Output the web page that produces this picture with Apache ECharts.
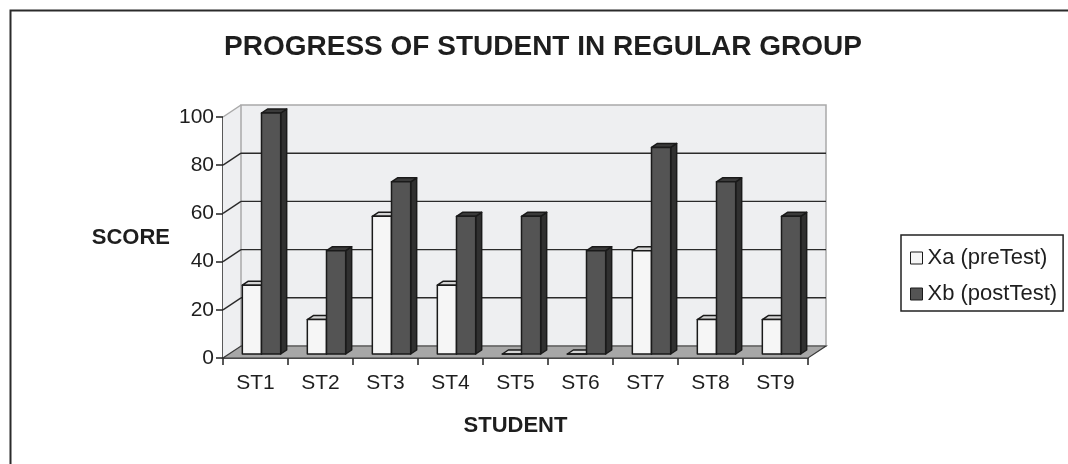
<!DOCTYPE html>
<html>
<head>
<meta charset="utf-8">
<script src="https://cdn.jsdelivr.net/npm/echarts@6/dist/echarts.min.js"></script>
<style>
  html, body { margin: 0; padding: 0; background: #fff; }
  #chart { width: 1068px; height: 464px; }
</style>
</head>
<body>
<div id="chart"></div>
<script>
// Student scores before and after the course (percent of items correct)
const categories = ['ST1', 'ST2', 'ST3', 'ST4', 'ST5', 'ST6', 'ST7', 'ST8', 'ST9'];
const preTest  = [28.57, 14.29, 57.14, 28.57, 0, 0, 42.86, 14.29, 14.29];
const postTest = [100, 42.86, 71.43, 57.14, 57.14, 42.86, 85.71, 71.43, 57.14];
const scoreTicks = [0, 20, 40, 60, 80, 100];
const seriesNames = ['Xa (preTest)', 'Xb (postTest)'];

// Pseudo-3D look: the back wall sits DEPTH pixels behind the front axis plane,
// bars occupy the middle third of that depth.
const DEPTH = [18, -12];
const BAR_NEAR = 1 / 3;
const BAR_FAR = 2 / 3;
const BAR_RATIO = 0.295;   // bar width as a share of a category band
const OUTLINE = '#1a1a1a';

const FACES = {
  pre:  { front: '#f6f6f6', top: '#d4d4d4', side: '#bdbdbd' },
  post: { front: '#545454', top: '#3a3a3a', side: '#303030' }
};

function barRenderer(leftOfCenter, faces) {
  return function (params, api) {
    const i = api.value(0);
    const v = api.value(1);
    const topPt = api.coord([i, v]);
    const basePt = api.coord([i, 0]);
    const band = api.size([1, 0])[0];
    const w = band * BAR_RATIO;
    const x0 = leftOfCenter ? topPt[0] - w : topPt[0];
    const x1 = x0 + w;
    const nx = DEPTH[0] * BAR_NEAR, ny = DEPTH[1] * BAR_NEAR;
    const fx = DEPTH[0] * BAR_FAR,  fy = DEPTH[1] * BAR_FAR;
    const yt = topPt[1], yb = basePt[1];
    const line = { stroke: OUTLINE, lineWidth: 1.5, lineJoin: 'round' };
    return {
      type: 'group',
      children: [
        { type: 'polygon',
          shape: { points: [[x1 + nx, yb + ny], [x1 + fx, yb + fy], [x1 + fx, yt + fy], [x1 + nx, yt + ny]] },
          style: Object.assign({ fill: faces.side }, line) },
        { type: 'polygon',
          shape: { points: [[x0 + nx, yt + ny], [x1 + nx, yt + ny], [x1 + fx, yt + fy], [x0 + fx, yt + fy]] },
          style: Object.assign({ fill: faces.top }, line) },
        { type: 'polygon',
          shape: { points: [[x0 + nx, yb + ny], [x1 + nx, yb + ny], [x1 + nx, yt + ny], [x0 + nx, yt + ny]] },
          style: Object.assign({ fill: faces.front }, line) }
      ]
    };
  };
}

// Walls, floor and gridlines of the 3D box, built from the axis scales
function frameRenderer(params, api) {
  const cs = params.coordSys;
  const gx = cs.x, gw = cs.width;
  const [dx, dy] = DEPTH;
  const y0 = api.coord([0, scoreTicks[0]])[1];
  const yMax = api.coord([0, scoreTicks[scoreTicks.length - 1]])[1];
  const wallFill = '#eeeff1';
  const children = [
    { type: 'polygon',
      shape: { points: [[gx, yMax], [gx + dx, yMax + dy], [gx + dx, y0 + dy], [gx, y0]] },
      style: { fill: wallFill, stroke: null } },
    { type: 'rect',
      shape: { x: gx + dx, y: yMax + dy, width: gw, height: y0 - yMax },
      style: { fill: wallFill, stroke: '#a9a9a9', lineWidth: 1.5 } },
    { type: 'line',
      shape: { x1: gx, y1: yMax, x2: gx + dx, y2: yMax + dy },
      style: { stroke: '#a9a9a9', lineWidth: 1.5 } }
  ];
  scoreTicks.slice(1, -1).forEach(function (t) {
    const y = api.coord([0, t])[1];
    children.push(
      { type: 'line', shape: { x1: gx, y1: y, x2: gx + dx, y2: y + dy },
        style: { stroke: '#2a2a2a', lineWidth: 1.4 } },
      { type: 'line', shape: { x1: gx + dx, y1: y + dy, x2: gx + dx + gw, y2: y + dy },
        style: { stroke: '#2a2a2a', lineWidth: 1.4 } }
    );
  });
  children.push({
    type: 'polygon',
    shape: { points: [[gx, y0], [gx + gw, y0], [gx + gw + dx, y0 + dy], [gx + dx, y0 + dy]] },
    style: { fill: '#a7a7a7', stroke: '#3a3a3a', lineWidth: 1.2 }
  });
  return { type: 'group', children: children };
}

const chart = echarts.init(document.getElementById('chart'), null, { renderer: 'canvas' });
const FONT = 'Liberation Sans';

chart.setOption({
  animation: false,
  backgroundColor: '#ffffff',
  title: {
    text: 'PROGRESS OF STUDENT IN REGULAR GROUP',
    left: 538,
    top: 28,
    textAlign: 'center',
    textStyle: { fontFamily: FONT, fontSize: 28, fontWeight: 'bold', color: '#1e1e1e' }
  },
  graphic: [{
    type: 'rect',
    left: 8, top: 8,
    shape: { width: 1100, height: 500 },
    style: { fill: null, stroke: '#2b2b2b', lineWidth: 2 },
    silent: true
  }],
  legend: {
    orient: 'vertical',
    left: 901,
    top: 235,
    padding: [12, 6, 6, 9],
    itemGap: 14,
    itemWidth: 12,
    itemHeight: 12,
    borderColor: '#222',
    borderWidth: 1.5,
    icon: 'rect',
    textStyle: { fontFamily: FONT, fontSize: 22, color: '#1e1e1e' },
    data: [
      { name: seriesNames[0], itemStyle: { color: FACES.pre.front, borderColor: OUTLINE, borderWidth: 1 } },
      { name: seriesNames[1], itemStyle: { color: FACES.post.front, borderColor: OUTLINE, borderWidth: 1 } }
    ]
  },
  grid: { left: 223, top: 117, width: 585, height: 241, containLabel: false },
  xAxis: {
    type: 'category',
    data: categories,
    boundaryGap: true,
    axisLine: { lineStyle: { color: '#222', width: 1.5 } },
    axisTick: { show: true, length: 7, lineStyle: { color: '#222', width: 1.5 } },
    axisLabel: { fontFamily: FONT, fontSize: 21, color: '#1e1e1e', margin: 15 },
    name: 'STUDENT',
    nameLocation: 'middle',
    nameGap: 57,
    nameTextStyle: { fontFamily: FONT, fontSize: 22, fontWeight: 'bold', color: '#1e1e1e' },
    splitLine: { show: false }
  },
  yAxis: {
    type: 'value',
    min: scoreTicks[0],
    max: scoreTicks[scoreTicks.length - 1],
    interval: 20,
    axisLine: { show: true, lineStyle: { color: '#222', width: 1.5 } },
    axisTick: { show: true, length: 7, lineStyle: { color: '#222', width: 1.5 } },
    axisLabel: { fontFamily: FONT, fontSize: 21, color: '#1e1e1e', margin: 9 },
    splitLine: { show: false },
    name: 'SCORE',
    nameLocation: 'middle',
    nameRotate: 0,
    nameGap: 53,
    nameTextStyle: { fontFamily: FONT, fontSize: 22, fontWeight: 'bold', color: '#1e1e1e', padding: [16, 0, 0, 0] }
  },
  series: [
    {
      type: 'custom',
      name: 'frame',
      silent: true,
      z: 1,
      renderItem: frameRenderer,
      data: [[0, 0]],
      encode: { x: 0, y: 1 }
    },
    {
      type: 'custom',
      name: seriesNames[0],
      z: 2,
      renderItem: barRenderer(true, FACES.pre),
      itemStyle: { color: FACES.pre.front, borderColor: OUTLINE },
      data: preTest.map(function (v, i) { return [i, v]; }),
      encode: { x: 0, y: 1 }
    },
    {
      type: 'custom',
      name: seriesNames[1],
      z: 3,
      renderItem: barRenderer(false, FACES.post),
      itemStyle: { color: FACES.post.front, borderColor: OUTLINE },
      data: postTest.map(function (v, i) { return [i, v]; }),
      encode: { x: 0, y: 1 }
    }
  ]
});
</script>
</body>
</html>
